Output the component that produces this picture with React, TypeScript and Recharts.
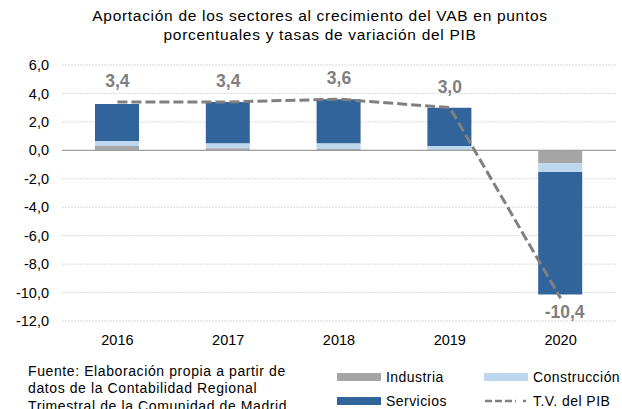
import React from 'react';
import { ComposedChart, Bar, Line, XAxis, YAxis, CartesianGrid, ReferenceLine, LabelList } from 'recharts';

const years = ['2016', '2017', '2018', '2019', '2020'];
const industria = [0.3, 0.15, 0.1, 0.05, -0.9];
const construccion = [0.35, 0.35, 0.4, 0.25, -0.63];
const servicios = [2.6, 2.9, 3.1, 2.7, -8.6];
const pib = [3.4, 3.4, 3.6, 3.0, -10.4];
const yTicks = [-12, -10, -8, -6, -4, -2, 0, 2, 4, 6];

const titleLines = [
  'Aportación de los sectores al crecimiento del VAB en puntos',
  'porcentuales y tasas de variación del PIB',
];
const sourceLines = [
  'Fuente: Elaboración propia a partir de',
  'datos de la Contabilidad Regional',
  'Trimestral de la Comunidad de Madrid',
];

const C_IND = '#a5a5a5';
const C_CON = '#bdd7ee';
const C_SER = '#31649a';
const C_PIB = '#808080';

const data = years.map((year, i) => ({
  year,
  industria: industria[i],
  construccion: construccion[i],
  servicios: servicios[i],
  pib: pib[i],
}));

const fmt = (v: number) => v.toFixed(1).replace('.', ',');
const FONT = '"Liberation Sans", Arial, sans-serif';

const PibLabel = (props: any) => {
  const { x, y, value } = props;
  if (value == null) return null;
  const neg = value < 0;
  return (
    <text
      x={neg ? x + 4 : x}
      y={neg ? y + 14 : y - 21}
      textAnchor="middle"
      dominantBaseline="central"
      fill={C_PIB}
      fontFamily={FONT}
      fontWeight="bold"
      fontSize={17.5}
    >
      {fmt(value)}
    </text>
  );
};

const legendItems = [
  { name: 'Industria', color: C_IND, type: 'bar', left: 337, top: 377 },
  { name: 'Construcción', color: C_CON, type: 'bar', left: 484, top: 377 },
  { name: 'Servicios', color: C_SER, type: 'bar', left: 337, top: 401 },
  { name: 'T.V. del PIB', color: C_PIB, type: 'line', left: 484, top: 401 },
];

export default function App() {
  return (
    <div
      style={{
        position: 'absolute',
        left: 0,
        top: 0,
        width: 622,
        height: 409,
        overflow: 'hidden',
        background: '#fff',
        fontFamily: FONT,
      }}
    >
      {titleLines.map((t, i) => (
        <div
          key={i}
          style={{
            position: 'absolute',
            left: 20,
            width: 600,
            top: 6 + i * 18.5,
            textAlign: 'center',
            fontSize: 15.5,
            letterSpacing: 0.7,
            lineHeight: '19px',
            color: '#000',
            whiteSpace: 'nowrap',
          }}
        >
          {t}
        </div>
      ))}
      <ComposedChart
        width={622}
        height={409}
        data={data}
        stackOffset="sign"
        margin={{ top: 65, right: 6, left: 0, bottom: 58 }}
      >
        <CartesianGrid vertical={false} stroke="#dadada" strokeDasharray="2 1" />
        <XAxis
          dataKey="year"
          axisLine={false}
          tickLine={false}
          height={30}
          tickSize={6}
          tickMargin={8}
          tick={{ fill: '#000', fontSize: 14.5, fontFamily: FONT }}
        />
        <YAxis
          domain={[-12, 6]}
          ticks={yTicks}
          interval={0}
          width={62}
          axisLine={false}
          tickLine={false}
          tickSize={6}
          tickMargin={7}
          tickFormatter={fmt}
          tick={{ fill: '#000', fontSize: 14.5, fontFamily: FONT }}
        />
        <ReferenceLine y={0} stroke="#a0a0a0" strokeWidth={1.2} />
        <Bar dataKey="industria" stackId="a" fill={C_IND} barSize={44} isAnimationActive={false} />
        <Bar dataKey="construccion" stackId="a" fill={C_CON} barSize={44} isAnimationActive={false} />
        <Bar dataKey="servicios" stackId="a" fill={C_SER} barSize={44} isAnimationActive={false} />
        <Line
          dataKey="pib"
          type="linear"
          stroke={C_PIB}
          strokeWidth={3}
          strokeDasharray="10 4"
          dot={false}
          activeDot={false}
          isAnimationActive={false}
        >
          <LabelList dataKey="pib" content={PibLabel} />
        </Line>
      </ComposedChart>
      <div
        style={{
          position: 'absolute',
          left: 28,
          top: 362.6,
          fontSize: 14,
          letterSpacing: 0.6,
          lineHeight: '17.5px',
          color: '#000',
          whiteSpace: 'nowrap',
        }}
      >
        {sourceLines.map((l, i) => (
          <div key={i}>{l}</div>
        ))}
      </div>
      {legendItems.map((it) => (
        <div
          key={it.name}
          style={{
            position: 'absolute',
            left: it.left,
            top: it.top - 10,
            height: 20,
            display: 'flex',
            alignItems: 'center',
            fontSize: 14,
            letterSpacing: 0.45,
            color: '#000',
            whiteSpace: 'nowrap',
          }}
        >
          <svg width={49} height={20} style={{ display: 'block' }}>
            {it.type === 'bar' ? (
              <rect x={0} y={6} width={44} height={8} fill={it.color} />
            ) : (
              <>
                <line x1={1} y1={10} x2={32} y2={10} stroke={it.color} strokeWidth={2.5} strokeDasharray="7 3" />
                <line x1={39} y1={10} x2={42} y2={10} stroke={it.color} strokeWidth={2.5} />
              </>
            )}
          </svg>
          <span>{it.name}</span>
        </div>
      ))}
    </div>
  );
}
